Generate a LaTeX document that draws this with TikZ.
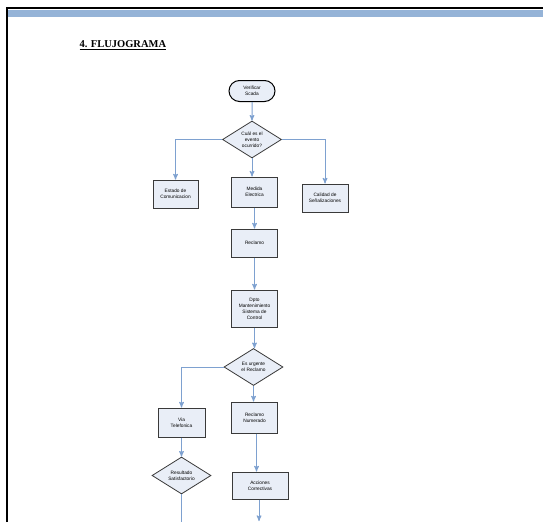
\documentclass[tikz,border=0pt]{standalone}
\usepackage{fontspec}
\setmainfont{Liberation Serif}
\newfontfamily\boxfont{Liberation Sans}
\usetikzlibrary{arrows}
\usetikzlibrary{shapes.geometric}
\usetikzlibrary{shapes.misc}
\definecolor{bandblue}{HTML}{95B3D7}
\definecolor{linkblue}{HTML}{7EA1D0}
\definecolor{boxfill}{HTML}{E9EEF7}
\definecolor{boxedge}{HTML}{3A3A3A}
\tikzset{
	flowbox/.style={draw=boxedge,line width=1pt,fill=boxfill,align=center,
		minimum width=#1,inner sep=1pt,font=\boxfont\fontsize{4.8}{6}\selectfont},
	flowbox/.default=46pt,
	decision/.style={diamond,aspect=1.6,draw=boxedge,line width=0.8pt,fill=boxfill,align=center,
		inner sep=0pt,minimum width=59pt,minimum height=37pt,font=\boxfont\fontsize{4.8}{6}\selectfont},
	terminal/.style={rounded rectangle,draw=black,line width=1pt,fill=boxfill,align=center,
		minimum width=48pt,minimum height=21pt,inner sep=1pt,font=\boxfont\fontsize{4.8}{6}\selectfont},
	flowline/.style={draw=linkblue,line width=1pt,>=stealth'},
}
\begin{document}
\begin{tikzpicture}[x=1pt,y=-1pt]
	\useasboundingbox (0,0) rectangle (543,522);
	\fill[white] (0,0) rectangle (543,522);
	% page frame
	\fill[bandblue] (8,10) rectangle (543,16.5);
	\draw[black,line width=2pt] (7,522) -- (7,8) -- (543,8);
	\node[anchor=west,font=\bfseries\fontsize{10.5}{12}\selectfont] (title) at (76,45) {\underline{4. FLUJOGRAMA}};
	% nodes
	\node[terminal] (scada) at (252,91) {Verificar\\Scada};
	\node[decision] (evento) at (252,139.5) {Cuál es el\\evento\\ocurrido?};
	\node[flowbox=45pt,minimum height=28pt] (estado) at (175.5,194) {Estado de\\Comunicacion};
	\node[flowbox,minimum height=30pt] (medida) at (254.5,192) {Medida\\Electrica};
	\node[flowbox,minimum height=28pt] (calidad) at (325,198) {Calidad de\\Señalizaciones};
	\node[flowbox,minimum height=28pt] (reclamo) at (254.5,243) {Reclamo};
	\node[flowbox,minimum height=37pt] (dpto) at (254.5,308.5) {Dpto\\Mantenimiento\\Sistema de\\Control};
	\node[decision] (urgente) at (253.5,367) {Es urgente\\el Reclamo};
	\node[flowbox=47pt,minimum height=29pt] (via) at (181.5,422.5) {Via\\Telefonica};
	\node[flowbox,minimum height=31pt] (numerado) at (254.5,417.5) {Reclamo\\Numerado};
	\node[decision] (resultado) at (181.5,475.5) {Resultado\\Satisfactorio};
	\node[flowbox=56pt,minimum height=27pt] (acciones) at (260,485.5) {Acciones\\Correctivas};
	\coordinate (finA) at (259,521);
	\coordinate (finR) at (181.5,522);
	% connectors
	\draw[flowline,->] (scada) -- (evento);
	\draw[flowline,->] (evento.west) -| (estado.north);
	\draw[flowline,->] (evento.south) -- (evento.south |- medida.north);
	\draw[flowline,->] (evento.east) -| (calidad.north);
	\draw[flowline,->] (medida) -- (reclamo);
	\draw[flowline,->] (reclamo) -- (dpto);
	\draw[flowline,->] (dpto.south) -- (dpto.south |- urgente.north);
	\draw[flowline,->] (urgente.west) -| (via.north);
	\draw[flowline,->] (urgente.south) -- (urgente.south |- numerado.north);
	\draw[flowline,->] (via) -- (resultado);
	\draw[flowline,->] (numerado.south) ++(2,0) coordinate (numS) -- (numS |- acciones.north);
	\draw[flowline,->] (acciones.south) ++(-1,0) coordinate (accS) -- (accS |- finA);
	\draw[flowline] (resultado.south) -- (finR);
\end{tikzpicture}
\end{document}
